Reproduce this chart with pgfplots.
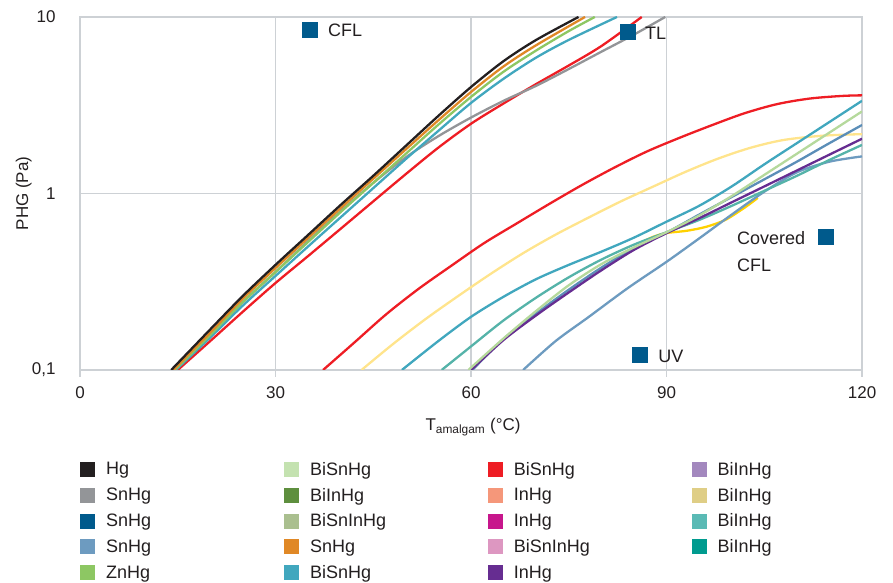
\documentclass[border=0pt]{standalone}
\usepackage{pgfplots}
\pgfplotsset{compat=1.18}
\usepackage{fontspec}
\setmainfont{Liberation Sans}

\definecolor{gridc}{HTML}{CDD1D5}
\definecolor{txt}{HTML}{231F20}
\definecolor{cHg}{HTML}{231F20}
\definecolor{cGray}{HTML}{939598}
\definecolor{cDarkBlue}{HTML}{005A8C}
\definecolor{cBlueGray}{HTML}{6D9BC0}
\definecolor{cSteel}{HTML}{5B8EB8}
\definecolor{cZn}{HTML}{8DC763}
\definecolor{cLightGreen}{HTML}{C4E2B0}
\definecolor{cLineGreen}{HTML}{B5D99C}
\definecolor{cDarkGreen}{HTML}{5E8F3E}
\definecolor{cSage}{HTML}{AABF8F}
\definecolor{cOrange}{HTML}{E08826}
\definecolor{cTeal}{HTML}{41A7BE}
\definecolor{cRed}{HTML}{EE1D24}
\definecolor{cSalmon}{HTML}{F5977A}
\definecolor{cMagenta}{HTML}{C7168C}
\definecolor{cPink}{HTML}{DD97C1}
\definecolor{cPurple}{HTML}{662D91}
\definecolor{cLavender}{HTML}{A388BE}
\definecolor{cKhaki}{HTML}{DFCE86}
\definecolor{cAqua}{HTML}{5ABAB5}
\definecolor{cAquaLine}{HTML}{55B3A9}
\definecolor{cSea}{HTML}{009B8F}
\definecolor{cPaleYellow}{HTML}{FFE48C}
\definecolor{cGold}{HTML}{FFD100}

\begin{document}
\begin{tikzpicture}
\begin{axis}[
  scale only axis, width=782pt, height=353pt,
  xmin=0, xmax=120,
  ymode=log, ymin=0.1, ymax=10, yminorticks=false,
  xtick={0,30,60,90,120}, xticklabels={0,30,60,90,120},
  ytick={0.1,1,10}, yticklabels={{0,1},1,10},
  grid=major, major grid style={gridc, line width=1.3pt},
  axis line style={gridc, line width=1.3pt},
  xtick pos=bottom, tick align=outside, major tick length=7pt,
  xtick style={gridc, line width=1.3pt},
  ytick style={draw=none},
  tick label style={font=\fontsize{17}{20}\selectfont, text=txt},
  xticklabel style={yshift=-6pt},
  yticklabel style={xshift=-14pt},
  xlabel={T\textsubscript{amalgam} (°C)},
  ylabel={PHG (Pa)},
  label style={font=\fontsize{17}{20}\selectfont, text=txt},
  xlabel style={at={(axis description cs:0.5026,-0.172)}, anchor=base},
  ylabel style={at={(axis description cs:-0.0720,0.5)}, anchor=center},
  legend image code/.code={\fill[draw=none,#1] (0pt,-7.5pt) rectangle (15pt,7.5pt);},
  legend columns=4, legend cell align=left,
  legend style={at={(axis description cs:0,-0.255)}, anchor=north west,
    draw=none, fill=none, inner sep=0pt, row sep=7.25pt,
    font=\fontsize{18}{21}\selectfont, text=txt,
    /tikz/every odd column/.style={column sep=9pt},
    /tikz/every even column/.style={column sep=25.8pt}},
  every axis plot/.append style={line width=2.3pt, smooth},
  after end axis/.code={\path (rel axis cs:-0.1023,-0.603) rectangle (rel axis cs:1.0396,1.048);},
]

% legend swatches, row by row
\addlegendimage{cHg}\addlegendentry{\makebox[150pt][l]{Hg}}
\addlegendimage{cLightGreen}\addlegendentry{\makebox[150pt][l]{BiSnHg}}
\addlegendimage{cRed}\addlegendentry{\makebox[150pt][l]{BiSnHg}}
\addlegendimage{cLavender}\addlegendentry{\makebox[150pt][l]{BiInHg}}
\addlegendimage{cGray}\addlegendentry{SnHg}
\addlegendimage{cDarkGreen}\addlegendentry{BiInHg}
\addlegendimage{cSalmon}\addlegendentry{InHg}
\addlegendimage{cKhaki}\addlegendentry{BiInHg}
\addlegendimage{cDarkBlue}\addlegendentry{SnHg}
\addlegendimage{cSage}\addlegendentry{BiSnInHg}
\addlegendimage{cMagenta}\addlegendentry{InHg}
\addlegendimage{cAqua}\addlegendentry{BiInHg}
\addlegendimage{cBlueGray}\addlegendentry{SnHg}
\addlegendimage{cOrange}\addlegendentry{SnHg}
\addlegendimage{cPink}\addlegendentry{BiSnInHg}
\addlegendimage{cSea}\addlegendentry{BiInHg}
\addlegendimage{cZn}\addlegendentry{ZnHg}
\addlegendimage{cTeal}\addlegendentry{BiSnHg}
\addlegendimage{cPurple}\addlegendentry{InHg}

% lower group
\addplot[cRed, forget plot] coordinates {
(37.3,0.1) (42,0.142) (47,0.207) (52,0.289) (57,0.390) (62,0.523) (67,0.676)
(72,0.872) (77,1.115) (82,1.402) (87,1.730) (92,2.067) (97,2.440) (102,2.850)
(107,3.210) (112,3.450) (117,3.570) (120,3.597)};
\addplot[cPaleYellow, forget plot] coordinates {
(43.2,0.1) (48,0.140) (53,0.194) (58,0.262) (63,0.350) (68,0.459)
(73,0.585) (78,0.729) (83,0.902) (88,1.096) (93,1.330) (98,1.580) (103,1.820)
(108,2.010) (114,2.125) (120,2.168)};
\addplot[cGold, forget plot] coordinates {
(86,0.525) (88,0.569) (90,0.597) (93,0.614) (96,0.646) (99,0.708) (102,0.832) (104,0.944)};
\addplot[cBlueGray, forget plot] coordinates {
(68,0.1) (73,0.146) (78,0.199) (84,0.290) (90,0.410) (95,0.556)
(100,0.759) (105,1.023) (110,1.318) (115,1.514) (120,1.622)};
\addplot[cAquaLine, forget plot] coordinates {
(55.5,0.1) (60,0.136) (65,0.191) (70,0.257) (75,0.335) (80,0.422)
(85,0.513) (90,0.603) (95,0.708) (100,0.851) (105,1.035) (110,1.259) (115,1.549) (120,1.884)};
\addplot[cSteel, forget plot] coordinates {
(60.2,0.1) (65,0.150) (70,0.209) (75,0.285) (80,0.380) (85,0.490) (90,0.600)
(95,0.759) (100,0.955) (105,1.202) (110,1.514) (115,1.928) (120,2.443)};
\addplot[cPurple, forget plot] coordinates {
(60,0.1) (65,0.148) (70,0.204) (75,0.275) (80,0.367) (85,0.479)
(90,0.596) (95,0.724) (100,0.891) (105,1.096) (110,1.349) (115,1.660) (120,2.042)};
\addplot[cLineGreen, forget plot] coordinates {
(59.6,0.1) (65,0.151) (70,0.216) (75,0.302) (80,0.398) (85,0.495)
(90,0.603) (95,0.750) (100,0.966) (105,1.274) (110,1.679) (115,2.213) (120,2.917)};
\addplot[cTeal, forget plot] coordinates {
(49.4,0.1) (55,0.146) (60,0.200) (65,0.260) (70,0.327) (75,0.394)
(80,0.468) (85,0.562) (90,0.692) (95,0.851) (100,1.096) (105,1.462) (110,1.928)
(115,2.541) (120,3.350)};

% upper group
\addplot[cRed, forget plot] coordinates {
(15,0.1) (20,0.146) (25,0.214) (30,0.311) (35,0.442) (40,0.631) (45,0.902)
(50,1.288) (55,1.820) (60,2.483) (65,3.236) (70,4.169) (75,5.309) (80,6.839) (86.2,10)};
\addplot[cGray, forget plot] coordinates {
(14.5,0.1) (20,0.158) (25,0.243) (30,0.359) (35,0.537) (40,0.794) (45,1.148)
(50,1.603) (55,2.113) (60,2.692) (65,3.350) (70,4.074) (75,5.070) (80,6.353) (85,7.943) (89.8,10)};
\addplot[cTeal, forget plot] coordinates {
(14.7,0.1) (20,0.153) (25,0.232) (30,0.341) (35,0.501) (40,0.733) (45,1.072)
(50,1.567) (55,2.265) (60,3.258) (65,4.467) (70,5.888) (75,7.413) (82.4,10)};
\addplot[cZn, forget plot] coordinates {
(14.5,0.1) (20,0.158) (25,0.243) (30,0.359) (35,0.531) (40,0.785) (45,1.148)
(50,1.679) (55,2.455) (60,3.524) (65,4.898) (70,6.457) (75,8.318) (79,10)};
\addplot[cOrange, forget plot] coordinates {
(14.3,0.1) (20,0.163) (25,0.254) (30,0.378) (35,0.560) (40,0.826) (45,1.211)
(50,1.778) (55,2.600) (60,3.758) (65,5.248) (70,6.918) (77.5,10)};
\addplot[cHg, forget plot] coordinates {
(14,0.1) (20,0.170) (25,0.263) (30,0.394) (35,0.582) (40,0.861) (45,1.259)
(50,1.862) (55,2.754) (60,4.009) (65,5.623) (70,7.413) (76.5,10)};

% lamp type markers
\addplot[only marks, mark=square*, mark size=7.5pt, cDarkBlue, line width=0pt, forget plot]
coordinates {(35.3,8.43) (84.1,8.22) (85.9,0.1216) (114.5,0.567)};

\node[anchor=west, inner sep=0pt, font=\fontsize{18}{21}\selectfont, text=txt] at (axis cs:38.05,8.43) {CFL};
\node[anchor=west, inner sep=0pt, font=\fontsize{18}{21}\selectfont, text=txt] at (axis cs:86.7,8.11) {TL};
\node[anchor=west, inner sep=0pt, font=\fontsize{18}{21}\selectfont, text=txt] at (axis cs:88.7,0.120) {UV};
\node[anchor=west, inner sep=0pt, font=\fontsize{18}{21}\selectfont, text=txt] at (axis cs:100.8,0.560) {Covered};
\node[anchor=west, inner sep=0pt, font=\fontsize{18}{21}\selectfont, text=txt] at (axis cs:100.8,0.394) {CFL};
\end{axis}
\end{tikzpicture}
\end{document}
